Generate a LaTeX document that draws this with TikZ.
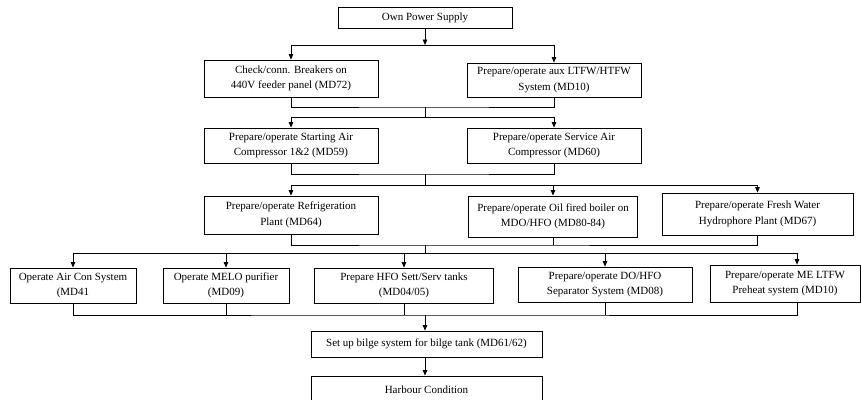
\documentclass[tikz,border=0pt]{standalone}
\usepackage{fontspec}
\setmainfont{Liberation Serif}
\usetikzlibrary{arrows.meta}
\tikzset{
  task/.style={draw, line width=0.8pt, align=center, inner sep=1pt,
    font=\fontsize{11}{15.5}\selectfont},
}
\begin{document}
\begin{tikzpicture}[x=1pt, y=-1pt, line width=0.8pt, >={Triangle[length=5.5pt,width=4.5pt]}]
  \useasboundingbox (0,0) rectangle (861,399);
  % top
  \node[task, minimum width=174pt, minimum height=21pt] (power) at (425,17.5) {Own Power Supply};
  % first row
  \node[task, minimum width=174pt, minimum height=37pt] (breakers) at (291,78.5) {Check/conn. Breakers on\\440V feeder panel (MD72)};
  \node[task, minimum width=174pt, minimum height=34pt] (auxfw) at (554,80) {Prepare/operate aux LTFW/HTFW\\System (MD10)};
  % second row
  \node[task, minimum width=174pt, minimum height=35pt] (startair) at (291,145.5) {Prepare/operate Starting Air\\Compressor 1\&2 (MD59)};
  \node[task, minimum width=174pt, minimum height=35pt] (serviceair) at (554,145.5) {Prepare/operate Service Air\\Compressor (MD60)};
  % third row
  \node[task, minimum width=174pt, minimum height=38pt] (refrig) at (291,215) {Prepare/operate Refrigeration\\Plant (MD64)};
  \node[task, minimum width=169pt, minimum height=41pt] (boiler) at (553,216.5) {Prepare/operate Oil fired boiler on\\MDO/HFO (MD80-84)};
  \node[task, minimum width=191pt, minimum height=42pt] (freshwater) at (757.5,214) {Prepare/operate Fresh Water\\Hydrophore Plant (MD67)};
  % fourth row
  \node[task, minimum width=126pt, minimum height=35pt] (aircon) at (73,285.5) {Operate Air Con System\\(MD41};
  \node[task, minimum width=126pt, minimum height=35pt] (melo) at (226,285.5) {Operate MELO purifier\\(MD09)};
  \node[task, minimum width=179pt, minimum height=35pt] (hfotanks) at (404,285.5) {Prepare HFO Sett/Serv tanks\\(MD04/05)};
  \node[task, minimum width=174pt, minimum height=35pt] (separator) at (605,284.5) {Prepare/operate DO/HFO\\Separator System (MD08)};
  \node[task, minimum width=150pt, minimum height=37pt] (preheat) at (785,283.5) {Prepare/operate ME LTFW\\Preheat system (MD10)};
  % bottom
  \node[task, minimum width=231pt, minimum height=26pt] (bilge) at (426.5,344) {Set up bilge system for bilge tank (MD61/62)};
  \node[task, minimum width=231pt, minimum height=27pt] (harbour) at (426.5,389.5) {Harbour Condition};

  % bus points
  \coordinate (split1) at (425,45);
  \coordinate (join1) at (425,107);
  \coordinate (split2) at (425,117);
  \coordinate (join2) at (425,174);
  \coordinate (split3) at (425,185);
  \coordinate (join3) at (425,245);
  \coordinate (split4) at (425,253);
  \coordinate (join4) at (425,315);
  \coordinate (preheatin) at ([xshift=12pt]preheat.north);
  \coordinate (preheatout) at ([xshift=12pt]preheat.south);

  \draw[->] (power) -- (split1);
  \draw[->] (split1) -| (breakers.north);
  \draw[->] (split1) -| (auxfw.north);

  \draw (breakers.south) |- (join1) -| (auxfw.south);
  \draw (join1) -- (split2);
  \draw[->] (split2) -| (startair.north);
  \draw[->] (split2) -| (serviceair.north);

  \draw (startair.south) |- (join2) -| (serviceair.south);
  \draw (join2) -- (split3);
  \draw[->] (split3) -| (refrig.north);
  \draw[->] (split3) -| (boiler.north);
  \draw[->] (split3) -| (freshwater.north);

  \draw (refrig.south) |- (join3) -| (freshwater.south);
  \draw (boiler.south) -- (boiler.south |- join3);
  \draw (join3) -- (split4);
  \draw[->] (split4) -| (aircon.north);
  \draw[->] (split4) -| (melo.north);
  \draw[->] (split4) -| (hfotanks.north);
  \draw[->] (split4) -| (separator.north);
  \draw[->] (split4) -| (preheatin);

  \draw (aircon.south) |- (join4) -| (preheatout);
  \draw (melo.south) -- (melo.south |- join4);
  \draw (hfotanks.south) -- (hfotanks.south |- join4);
  \draw (separator.south) -- (separator.south |- join4);
  \draw[->] (join4) -- (bilge.north -| join4);
  \draw[->] (bilge.south -| join4) -- (harbour.north -| join4);
\end{tikzpicture}
\end{document}
